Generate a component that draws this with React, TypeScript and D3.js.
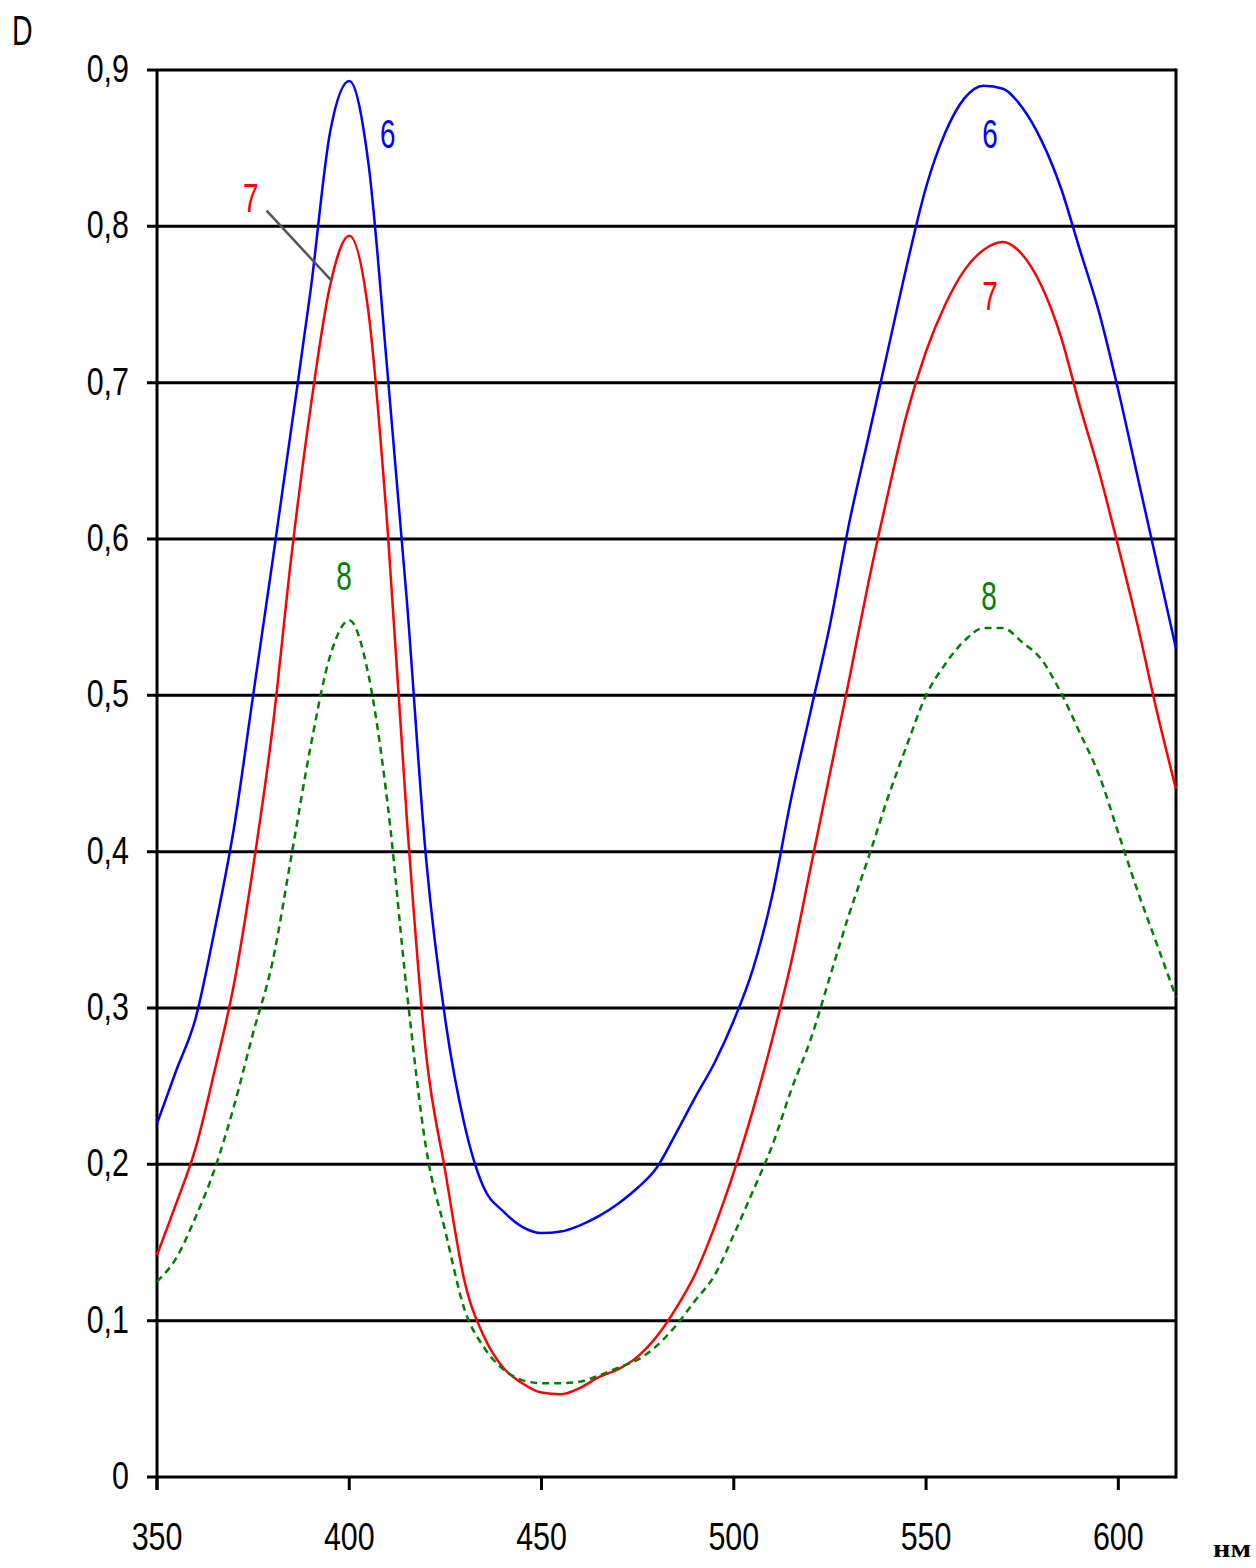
import React from "react";
import * as d3 from "d3";

// wavelength, nm
const wavelengths = [
  350, 355, 360, 365, 370, 375, 380, 385, 390, 395, 400, 405, 410, 415, 420,
  425, 430, 435, 440, 445, 450, 455, 460, 465, 470, 475, 480, 485, 490, 495,
  500, 505, 510, 515, 520, 525, 530, 535, 540, 545, 550, 555, 560, 565, 570,
  575, 580, 585, 590, 595, 600, 605, 610, 615,
];

// curve 6 (blue)
const curve6 = [
  0.226, 0.26, 0.293, 0.35, 0.415, 0.5, 0.585, 0.672, 0.76, 0.86, 0.893, 0.84,
  0.705, 0.56, 0.395, 0.292, 0.225, 0.185, 0.17, 0.16, 0.156, 0.157, 0.161,
  0.167, 0.175, 0.185, 0.198, 0.22, 0.243, 0.265, 0.292, 0.325, 0.372, 0.435,
  0.49, 0.545, 0.61, 0.665, 0.72, 0.775, 0.825, 0.86, 0.882, 0.89, 0.888,
  0.876, 0.855, 0.825, 0.785, 0.745, 0.695, 0.64, 0.585, 0.53,
];

// curve 7 (red)
const curve7 = [
  0.142, 0.175, 0.21, 0.26, 0.315, 0.39, 0.478, 0.59, 0.685, 0.762, 0.794,
  0.745, 0.605, 0.42, 0.27, 0.195, 0.125, 0.09, 0.07, 0.06, 0.054, 0.053,
  0.057, 0.064, 0.069, 0.077, 0.09, 0.108, 0.13, 0.16, 0.195, 0.235, 0.28,
  0.33, 0.39, 0.45, 0.51, 0.572, 0.628, 0.68, 0.72, 0.75, 0.772, 0.785, 0.79,
  0.782, 0.762, 0.73, 0.685, 0.643, 0.595, 0.545, 0.49, 0.44,
];

// curve 8 (green, dashed)
const curve8 = [
  0.125, 0.14, 0.166, 0.197, 0.237, 0.284, 0.329, 0.398, 0.468, 0.525, 0.548,
  0.513, 0.43, 0.31, 0.21, 0.157, 0.107, 0.083, 0.069, 0.062, 0.06, 0.06,
  0.061, 0.065, 0.07, 0.075, 0.084, 0.097, 0.113, 0.129, 0.155, 0.183, 0.212,
  0.248, 0.28, 0.32, 0.36, 0.396, 0.434, 0.468, 0.5, 0.52, 0.535, 0.543, 0.543,
  0.534, 0.523, 0.502, 0.476, 0.449, 0.412, 0.375, 0.341, 0.307,
];

const xTicks = [350, 400, 450, 500, 550, 600];
const yTicks = [0, 0.1, 0.2, 0.3, 0.4, 0.5, 0.6, 0.7, 0.8, 0.9];
const fmtY = (v: number) => (v === 0 ? "0" : d3.format(".1f")(v).replace(".", ","));

// curve numbers, centred at (nm, D)
const curveLabels = [
  { text: "6", color: "#0000ff", nm: 410, v: 0.86 },
  { text: "6", color: "#0000ff", nm: 566.6, v: 0.86 },
  { text: "7", color: "#ff0000", nm: 374.4, v: 0.819 },
  { text: "7", color: "#ff0000", nm: 566.6, v: 0.756 },
  { text: "8", color: "#008000", nm: 398.6, v: 0.577 },
  { text: "8", color: "#008000", nm: 566.4, v: 0.564 },
];

const W = 1256;
const H = 1568;
const margin = { top: 70, right: 80, bottom: 91, left: 157 };
const FONT = "'Liberation Sans', Arial, sans-serif";

// narrow text, like the old bitmap font of the original
const Txt = ({ x, y, children, anchor = "start", size = 39, sx = 0.78, fill = "#000", baseline }: any) => (
  <text
    transform={`translate(${x},${y}) scale(${sx},1)`}
    textAnchor={anchor}
    fontSize={size}
    fill={fill}
    dominantBaseline={baseline}
  >
    {children}
  </text>
);

export default function App() {
  const x = d3.scaleLinear().domain([350, 615]).range([margin.left, W - margin.right]);
  const y = d3.scaleLinear().domain([0, 0.9]).range([H - margin.bottom, margin.top]);

  const line = d3
    .line<number>()
    .x((_, i) => x(wavelengths[i]))
    .y((d) => y(d))
    .curve(d3.curveMonotoneX);

  const x0 = x.range()[0];
  const x1 = x.range()[1];
  const yBottom = y(0);

  return (
    <svg
      width={W}
      height={H}
      style={{ position: "absolute", left: 0, top: 0, background: "#fff" }}
      fontFamily={FONT}
    >
      <rect width={W} height={H} fill="#fff" />

      {/* grid lines + y labels */}
      {yTicks.map((t) => (
        <g key={t}>
          <line x1={x0 - 10} x2={x1} y1={y(t)} y2={y(t)} stroke="#000" strokeWidth={3} />
          <Txt x={129} y={y(t) + 12} anchor="end">
            {fmtY(t)}
          </Txt>
        </g>
      ))}

      {/* frame */}
      <line x1={x0} x2={x0} y1={y(0.9)} y2={yBottom + 13} stroke="#000" strokeWidth={3} />
      <line x1={x1} x2={x1} y1={y(0.9) - 1.5} y2={yBottom + 1.5} stroke="#000" strokeWidth={3} />

      {/* x ticks */}
      {xTicks.map((t) => (
        <g key={t}>
          <line x1={x(t)} x2={x(t)} y1={yBottom} y2={yBottom + 13} stroke="#000" strokeWidth={3} />
          <Txt x={x(t)} y={1550} anchor="middle">
            {t}
          </Txt>
        </g>
      ))}

      {/* curves */}
      <path d={line(curve6) || ""} fill="none" stroke="#0000ff" strokeWidth={2.5} />
      <path d={line(curve7) || ""} fill="none" stroke="#ff0000" strokeWidth={2.5} />
      <path
        d={line(curve8) || ""}
        fill="none"
        stroke="#008000"
        strokeWidth={2.5}
        strokeDasharray="7,5"
      />

      {/* leader for label 7 */}
      <line
        x1={x(378.5)}
        y1={y(0.81)}
        x2={x(395.5)}
        y2={y(0.765)}
        stroke="#555"
        strokeWidth={2.5}
      />

      {curveLabels.map((l, i) => (
        <Txt key={i} x={x(l.nm)} y={y(l.v) + 15} anchor="middle" size={41} sx={0.68} fill={l.color}>
          {l.text}
        </Txt>
      ))}

      {/* axis titles */}
      <Txt x={12} y={45} size={42} sx={0.68}>
        D
      </Txt>
      <text
        x={1213}
        y={1557}
        fontSize={26}
        fontWeight="bold"
        fontFamily="'Liberation Serif', serif"
        textLength={38}
        lengthAdjust="spacingAndGlyphs"
        fill="#000"
      >
        нм
      </text>
    </svg>
  );
}
